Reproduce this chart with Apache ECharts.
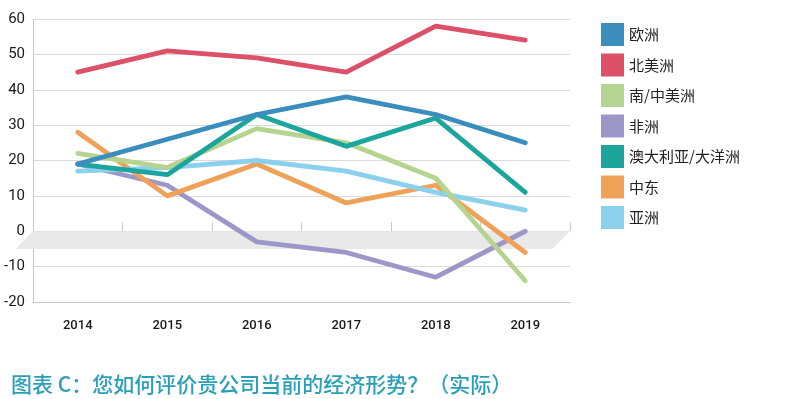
<!DOCTYPE html>
<html><head><meta charset="utf-8">
<script src="https://cdn.jsdelivr.net/npm/echarts@6/dist/echarts.min.js"></script>
<style>html,body{margin:0;padding:0;background:#fff}#c{width:802px;height:399px}</style>
</head><body><div id="c"></div>
<script>
const years = ['2014','2015','2016','2017','2018','2019'];
const seriesNames = ['欧洲','北美洲','南/中美洲','非洲','澳大利亚/大洋洲','中东','亚洲'];
const europe   = [19, 26, 33, 38, 33, 25];
const northAm  = [45, 51, 49, 45, 58, 54];
const southAm  = [22, 18, 29, 25, 15, -14];
const africa   = [19, 13, -3, -6, -13, 0];
const oceania  = [19, 16, 33, 24, 32, 11];
const mideast  = [28, 10, 19, 8, 13, -6];
const asia     = [17, 18, 20, 17, 11, 6];
const colors = ['#3a8dbd','#dc5068','#b4d48f','#9d96c8','#1ba59c','#f0a158','#8bd0ec'];
const titleText = '图表 C：您如何评价贵公司当前的经济形势？（实际）';
const band = [0, -5];

const allData = [europe, northAm, southAm, africa, oceania, mideast, asia];
const font = '"Noto Sans CJK SC", "Noto Sans", sans-serif';
const numFont = 'Roboto, "Noto Sans", sans-serif';
const chart = echarts.init(document.getElementById('c'));
const drawOrder = [3,5,6,2,4,0,1];
const series = drawOrder.map(i => ({
  name: seriesNames[i], type: 'line', data: allData[i], xAxisIndex: 0,
  symbol: 'none', color: colors[i], z: 3,
  lineStyle: {width: 4.8, color: colors[i], cap: 'round', join: 'round'}
}));
chart.setOption({
  animation: false,
  textStyle: {fontFamily: font},
  title: {text: titleText, left: 6, top: 369,
    textStyle: {fontSize: 21, color: '#2a9fb8', fontWeight: 500, fontFamily: font}},
  legend: {orient: 'vertical', left: 596, top: 18, icon: 'rect', itemWidth: 23, itemHeight: 23,
    itemGap: 7.5, data: seriesNames,
    textStyle: {fontSize: 15, color: '#222', fontFamily: font, padding: [0,0,0,0]}},
  grid: {left: 33, right: 232, top: 19, bottom: 97},
  xAxis: [{
    type: 'category', data: years, boundaryGap: true, position: 'bottom',
    axisLine: {onZero: false, lineStyle: {color: '#c8c8c8', width: 1}},
    axisTick: {show: false},
    axisLabel: {fontSize: 13, color: '#1a1a1a', margin: 17, fontFamily: numFont, fontWeight: 500}
  },{
    type: 'category', data: years, boundaryGap: true, position: 'bottom',
    axisLine: {show: false, onZero: true},
    axisTick: {show: true, inside: true, length: 9, lineStyle: {color: '#c8c8c8'}},
    axisLabel: {show: false}
  }],
  yAxis: {
    type: 'value', min: -20, max: 60, interval: 10,
    axisLine: {show: true, lineStyle: {color: '#c8c8c8'}},
    axisTick: {show: false},
    axisLabel: {fontSize: 15, color: '#1a1a1a', margin: 8, fontFamily: numFont},
    splitLine: {lineStyle: {color: '#dadada', width: 1}}
  },
  series: series
});

function drawBand(){
  const x0 = chart.convertToPixel({xAxisIndex: 0}, years[0]);
  const x1 = chart.convertToPixel({xAxisIndex: 0}, years[1]);
  const half = (x1 - x0) / 2;
  const left = x0 - half, right = chart.convertToPixel({xAxisIndex: 0}, years[years.length-1]) + half;
  const yTop = chart.convertToPixel({yAxisIndex: 0}, band[0]);
  const yBot = chart.convertToPixel({yAxisIndex: 0}, band[1]);
  const slant = yBot - yTop;
  chart.setOption({graphic: [{type: 'polygon', z: 1, silent: true,
    shape: {points: [[left, yTop], [right, yTop], [right - slant, yBot], [left - slant, yBot]]},
    style: {fill: '#e9e9e9'}}]});
}
drawBand();
</script></body></html>
